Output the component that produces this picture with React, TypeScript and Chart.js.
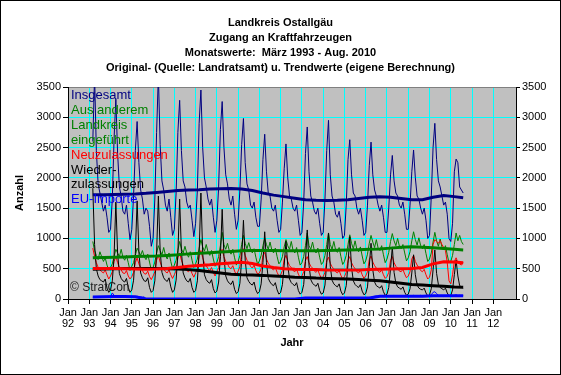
import React, { useEffect, useRef } from 'react';
import { Chart, registerables } from 'chart.js';

Chart.register(...registerables);

// ---- DATA ----
// monthly values, März 1993 .. Aug. 2010 (210 months)
const START_YEAR = 1993;
const START_MONTH = 3;

const insgesamt = [
  2600, 3700, 2450, 1900, 1750, 1600, 1450, 1550, 1350, 1100,
  1150, 1650, 2650, 3300, 2400, 1850, 1700, 1450, 1400, 1550, 1250, 980,
  1150, 1700, 2450, 2930, 2250, 1800, 1650, 1400, 1500, 1450, 1200, 870,
  1000, 1650, 2750, 3700, 2550, 1950, 1800, 1550, 1450, 1650, 1350, 1050,
  1150, 1750, 2750, 3280, 2450, 1950, 1850, 1600, 1500, 1550, 1300, 1030,
  1250, 1800, 2900, 3450, 2500, 2000, 1850, 1650, 1550, 1650, 1350, 1100,
  1300, 1850, 2800, 3260, 2500, 2050, 1900, 1650, 1550, 1700, 1400, 1150,
  1300, 1800, 2550, 2980, 2250, 1900, 1800, 1550, 1500, 1600, 1350, 1200,
  1200, 1650, 2300, 2720, 2100, 1750, 1700, 1500, 1450, 1550, 1300, 1100,
  1150, 1600, 2150, 2560, 2000, 1700, 1650, 1500, 1450, 1550, 1300, 1050,
  1100, 1600, 2400, 2840, 2100, 1700, 1600, 1450, 1400, 1500, 1250, 1050,
  1100, 1650, 2450, 2950, 2050, 1700, 1600, 1400, 1350, 1450, 1250, 1000,
  1050, 1550, 2300, 2630, 2050, 1750, 1700, 1500, 1400, 1500, 1300, 1050,
  1100, 1550, 2200, 2590, 2050, 1800, 1700, 1550, 1450, 1550, 1350, 1100,
  1100, 1500, 2050, 2370, 1950, 1750, 1700, 1550, 1500, 1600, 1400, 1150,
  1150, 1550, 2100, 2460, 2000, 1700, 1650, 1500, 1400, 1500, 1300, 1000,
  1050, 1700, 2500, 2900, 2300, 1950, 1850, 1700, 1550, 1600, 1400, 1000,
  950, 1250, 2100, 2310, 2250, 1850, 1800, 1750,
];

const ausAnderemLandkreis = [
  950, 800, 720, 650, 780, 700, 620, 680, 560, 480,
  520, 580, 700, 820, 760, 700, 820, 690, 640, 720, 600, 470,
  540, 600, 720, 840, 780, 720, 800, 700, 650, 740, 610, 480,
  520, 610, 760, 880, 800, 730, 850, 720, 660, 760, 620, 500,
  560, 640, 800, 950, 830, 760, 870, 760, 690, 780, 640, 520,
  580, 660, 840, 980, 860, 790, 900, 780, 720, 800, 660, 540,
  600, 700, 880, 1100, 900, 820, 920, 800, 740, 820, 680, 560,
  620, 720, 900, 1050, 920, 830, 930, 820, 760, 830, 690, 570,
  630, 720, 880, 1000, 900, 820, 940, 810, 760, 840, 700, 580,
  620, 700, 860, 980, 880, 820, 950, 800, 760, 850, 690, 560,
  600, 700, 880, 1090, 880, 820, 940, 800, 760, 840, 690, 570,
  610, 720, 900, 1090, 900, 820, 950, 810, 770, 850, 700, 570,
  620, 720, 900, 1060, 920, 830, 960, 820, 780, 860, 710, 580,
  630, 740, 920, 1050, 940, 850, 980, 840, 800, 880, 730, 600,
  660, 770, 950, 1080, 960, 880, 1000, 870, 830, 900, 760, 630,
  680, 780, 960, 1110, 980, 890, 1010, 880, 830, 900, 750, 620,
  660, 760, 940, 1100, 960, 870, 990, 860, 810, 880, 730, 600,
  620, 720, 900, 1090, 960, 1050, 950, 900,
];

const neuzulassungen = [
  840, 700, 600, 520, 480, 450, 430, 480, 400, 330,
  380, 450, 620, 700, 600, 520, 480, 430, 420, 470, 380, 330,
  370, 440, 600, 680, 580, 510, 470, 420, 410, 460, 370, 320,
  380, 450, 640, 720, 610, 530, 500, 450, 430, 480, 400, 340,
  400, 470, 680, 760, 640, 560, 520, 470, 450, 500, 420, 360,
  430, 500, 720, 800, 680, 590, 550, 500, 470, 520, 440, 380,
  450, 520, 760, 820, 700, 620, 580, 520, 500, 550, 460, 400,
  460, 540, 780, 830, 720, 640, 600, 540, 510, 560, 470, 410,
  430, 500, 720, 770, 660, 590, 550, 500, 480, 520, 440, 380,
  400, 470, 660, 720, 620, 550, 520, 470, 450, 490, 410, 350,
  380, 450, 640, 700, 600, 540, 510, 460, 440, 480, 400, 340,
  370, 440, 630, 690, 590, 530, 500, 450, 430, 470, 390, 330,
  370, 440, 640, 700, 600, 540, 500, 450, 430, 480, 400, 340,
  380, 450, 650, 710, 610, 550, 510, 460, 440, 480, 400, 340,
  370, 440, 640, 700, 600, 540, 510, 460, 450, 490, 410, 350,
  380, 450, 660, 720, 620, 560, 520, 470, 450, 490, 400, 330,
  360, 480, 900, 980, 950, 920, 960, 900, 850, 800, 600, 300,
  250, 400, 620, 680, 600, 580, 560, 600,
];

const wiederzulassungen = [
  1830, 900, 500, 380, 320, 300, 280, 330, 180, 110,
  150, 300, 700, 1600, 750, 420, 340, 300, 280, 340, 190, 110,
  150, 310, 750, 1620, 780, 430, 350, 300, 290, 350, 190, 110,
  140, 300, 760, 1700, 800, 440, 350, 310, 290, 350, 200, 110,
  150, 310, 740, 1650, 780, 430, 350, 300, 280, 340, 190, 110,
  140, 300, 760, 1750, 760, 400, 320, 280, 260, 320, 170, 100,
  130, 280, 700, 1480, 700, 380, 300, 260, 240, 300, 160, 90,
  120, 260, 650, 1300, 640, 350, 290, 250, 230, 280, 150, 90,
  120, 250, 600, 1110, 600, 340, 280, 240, 220, 270, 150, 80,
  110, 240, 560, 950, 560, 330, 270, 240, 220, 270, 140, 80,
  110, 240, 620, 1140, 560, 320, 260, 230, 210, 260, 140, 80,
  100, 230, 600, 1090, 540, 310, 250, 220, 200, 250, 130, 70,
  100, 220, 580, 1030, 520, 300, 240, 210, 190, 240, 130, 70,
  90, 200, 540, 920, 480, 280, 220, 200, 180, 220, 120, 60,
  80, 190, 500, 860, 440, 260, 200, 180, 160, 200, 110, 60,
  80, 170, 430, 730, 400, 230, 180, 160, 150, 180, 100, 50,
  70, 170, 480, 810, 420, 240, 190, 170, 150, 180, 100, 50,
  60, 150, 400, 640, 380, 220, 200, 180,
];

const euImporte = [
  30, 35, 40, 30, 35, 40, 30, 35, 25, 30,
  40, 100, 60, 45, 40, 35, 40, 30, 35, 40, 30, 35,
  40, 35, 40, 45, 40, 35, 30, 35, 0, 0, 0, 0,
  0, 0, 0, 0, 0, 0, 0, 0, 0, 0, 0, 0,
  0, 0, 0, 0, 0, 0, 0, 0, 0, 0, 0, 0,
  0, 0, 0, 0, 0, 0, 0, 0, 0, 0, 0, 0,
  0, 0, 0, 0, 0, 0, 0, 0, 0, 0, 0, 0,
  0, 0, 0, 0, 0, 0, 0, 0, 0, 0, 0, 0,
  0, 0, 0, 0, 0, 0, 0, 0, 0, 0, 0, 0,
  0, 0, 0, 0, 0, 0, 0, 0, 0, 0, 0, 0,
  10, 15, 20, 15, 20, 15, 10, 15, 20, 15, 10, 15,
  15, 20, 15, 20, 15, 10, 15, 20, 15, 20, 15, 10,
  15, 20, 15, 20, 25, 15, 20, 15, 20, 15, 10, 15,
  20, 15, 20, 25, 40, 45, 50, 40, 45, 50, 40, 45,
  40, 50, 45, 55, 60, 50, 45, 50, 55, 45, 40, 50,
  45, 50, 55, 60, 50, 45, 55, 60, 50, 45, 40, 50,
  50, 70, 110, 120, 90, 60, 50, 60, 40, 55, 60, 50,
  40, 55, 60, 70, 55, 60, 50, 55,
];

// trend values (eigene Berechnung), half-yearly points
const trendMonths = [
  '1993-03', '1993-09', '1994-03', '1994-09', '1995-03', '1995-09',
  '1996-03', '1996-09', '1997-03', '1997-09', '1998-03', '1998-09',
  '1999-03', '1999-09', '2000-03', '2000-09', '2001-03', '2001-09',
  '2002-03', '2002-09', '2003-03', '2003-09', '2004-03', '2004-09',
  '2005-03', '2005-09', '2006-03', '2006-09', '2007-03', '2007-09',
  '2008-03', '2008-09', '2009-03', '2009-09', '2010-03', '2010-08',
];
const trendInsgesamt = [
  1720, 1720, 1725, 1730, 1735, 1745, 1760, 1775, 1790, 1800, 1805, 1815,
  1820, 1825, 1815, 1790, 1750, 1715, 1690, 1665, 1640, 1630, 1625, 1630,
  1640, 1660, 1680, 1690, 1680, 1660, 1640, 1640, 1680, 1710, 1690, 1670,
];
const trendAusAnderem = [
  680, 685, 690, 695, 700, 705, 710, 720, 730, 745, 755, 765,
  775, 785, 795, 800, 800, 800, 798, 795, 795, 795, 800, 805,
  810, 815, 820, 825, 840, 855, 862, 855, 845, 835, 820, 810,
];
const trendNeu = [
  505, 505, 505, 500, 495, 490, 495, 505, 520, 540, 555, 565,
  580, 595, 605, 585, 545, 520, 500, 490, 488, 485, 480, 478,
  478, 480, 485, 490, 495, 500, 505, 520, 580, 615, 610, 600,
];
const trendWieder = [
  490, 495, 500, 505, 505, 505, 505, 500, 495, 485, 470, 450,
  430, 410, 400, 395, 390, 380, 370, 360, 355, 345, 340, 335,
  330, 320, 310, 300, 280, 260, 240, 230, 220, 210, 200, 195,
];
const trendEU = [
  35, 38, 40, 40, 38, 0, 0, 0, 0, 0, 0, 0,
  0, 0, 0, 0, 0, 0, 0, 0, 15, 15, 15, 15,
  15, 15, 15, 45, 45, 45, 45, 45, 55, 55, 55, 55,
];

const yearLabels = [
  '92', '93', '94', '95', '96', '97', '98', '99', '00', '01', '02',
  '03', '04', '05', '06', '07', '08', '09', '10', '11', '12',
];
const yTicks = [0, 250, 500, 750, 1000, 1250, 1500, 1750, 2000, 2250, 2500, 2750, 3000, 3250, 3500];

const titleLines = [
  'Landkreis Ostallgäu',
  'Zugang an Kraftfahrzeugen',
  'Monatswerte:  März 1993 - Aug. 2010',
  'Original- (Quelle: Landratsamt) u. Trendwerte (eigene Berechnung)',
];
const legendLines = ['Insgesamt', 'Aus anderem', 'Landkreis', 'eingeführt', 'Neuzulassungen', 'Wieder-', 'zulassungen', 'EU-Importe'];
const legendColors = ['#000080', '#008000', '#008000', '#008000', '#ff0000', '#000000', '#000000', '#0000ff'];

const NAVY = '#000080';
const GREEN = '#008000';
const RED = '#ff0000';
const BLACK = '#000000';
const BLUE = '#0000ff';
const FONT = 'Arial, "Liberation Sans", sans-serif';

// month index since Jan 1992
const monthPos = (year: number, month: number) => (year - 1992) * 12 + (month - 1);
const START_POS = monthPos(START_YEAR, START_MONTH);
const monthly = (vals: number[]) => vals.map((v, i) => ({ x: START_POS + i, y: v }));
const trend = (vals: number[]) =>
  vals.map((v, i) => {
    const [y, m] = trendMonths[i].split('-').map(Number);
    return { x: monthPos(y, m), y: v };
  });

const decor = {
  id: 'decor',
  beforeDraw(chart: any) {
    const { ctx, chartArea: a } = chart;
    ctx.save();
    ctx.fillStyle = '#ffffff';
    ctx.fillRect(0, 0, chart.width, chart.height);
    ctx.fillStyle = '#c0c0c0';
    ctx.fillRect(a.left, a.top, a.right - a.left, a.bottom - a.top);
    ctx.restore();
  },
  beforeDatasetsDraw(chart: any) {
    const { ctx, chartArea: a } = chart;
    ctx.save();
    ctx.lineWidth = 1;
    ctx.strokeStyle = '#808080';
    ctx.beginPath();
    ctx.moveTo(a.left, Math.round(a.top) + 0.5);
    ctx.lineTo(a.right, Math.round(a.top) + 0.5);
    ctx.stroke();
    ctx.strokeStyle = '#000000';
    ctx.beginPath();
    ctx.moveTo(Math.round(a.left) + 0.5, a.top);
    ctx.lineTo(Math.round(a.left) + 0.5, a.bottom);
    ctx.moveTo(Math.round(a.right) + 0.5, a.top);
    ctx.lineTo(Math.round(a.right) + 0.5, a.bottom);
    ctx.moveTo(a.left, Math.round(a.bottom) + 0.5);
    ctx.lineTo(a.right + 1, Math.round(a.bottom) + 0.5);
    ctx.stroke();
    ctx.restore();
  },
  afterDraw(chart: any) {
    const { ctx, chartArea: a } = chart;
    ctx.save();
    // titles
    ctx.fillStyle = '#000000';
    ctx.textAlign = 'center';
    ctx.textBaseline = 'middle';
    ctx.font = `bold 11px ${FONT}`;
    const titleY = [23, 37.5, 52.5, 67.5];
    titleLines.forEach((t, i) => ctx.fillText(t, chart.width / 2, titleY[i]));
    // axis titles
    ctx.fillText('Jahr', (a.left + a.right) / 2, 343);
    ctx.save();
    ctx.translate(20, (a.top + a.bottom) / 2);
    ctx.rotate(-Math.PI / 2);
    ctx.fillText('Anzahl', 0, 0);
    ctx.restore();
    // legend text inside plot
    ctx.textAlign = 'left';
    ctx.font = `13px ${FONT}`;
    legendLines.forEach((t, i) => {
      ctx.fillStyle = legendColors[i];
      ctx.fillText(t, a.left + 3, a.top + 8.5 + 14.9 * i);
    });
    // copyright
    ctx.fillStyle = '#202020';
    ctx.font = `12px ${FONT}`;
    ctx.fillText('© StratCon', a.left + 2, a.bottom - 11);
    // outer border
    ctx.strokeStyle = '#000000';
    ctx.lineWidth = 1;
    ctx.strokeRect(0.5, 0.5, chart.width - 1, chart.height - 1);
    ctx.restore();
  },
};

export default function App() {
  const ref = useRef<HTMLCanvasElement | null>(null);
  useEffect(() => {
    if (!ref.current) return;
    const raw = (label: string, vals: number[], color: string) => ({
      label,
      data: monthly(vals),
      borderColor: color,
      backgroundColor: color,
      borderWidth: 1,
      pointRadius: 0,
      tension: 0,
      fill: false,
    });
    const tr = (label: string, vals: number[], color: string) => ({
      label,
      data: trend(vals),
      borderColor: color,
      backgroundColor: color,
      borderWidth: 3,
      pointRadius: 0,
      tension: 0,
      fill: false,
    });
    const tickFont = { family: FONT, size: 11 };
    const chart = new Chart(ref.current, {
      type: 'line',
      data: {
        datasets: [
          tr('Trend Insgesamt', trendInsgesamt, NAVY),
          tr('Trend Aus anderem Landkreis', trendAusAnderem, GREEN),
          tr('Trend Neuzulassungen', trendNeu, RED),
          tr('Trend Wiederzulassungen', trendWieder, BLACK),
          tr('Trend EU-Importe', trendEU, BLUE),
          raw('EU-Importe', euImporte, BLUE),
          raw('Wiederzulassungen', wiederzulassungen, BLACK),
          raw('Neuzulassungen', neuzulassungen, RED),
          raw('Aus anderem Landkreis eingeführt', ausAnderemLandkreis, GREEN),
          raw('Insgesamt', insgesamt, NAVY),
        ] as any,
      },
      options: {
        animation: false,
        responsive: false,
        devicePixelRatio: 1,
        parsing: true,
        layout: { padding: { top: 87, left: 8, right: 0, bottom: 0 } },
        plugins: {
          legend: { display: false },
          title: { display: false },
          tooltip: { enabled: false },
        },
        scales: {
          x: {
            type: 'linear',
            min: 0,
            max: 252.8,
            afterBuildTicks: (s: any) => {
              s.ticks = yearLabels.map((_, i) => ({ value: i * 12 }));
            },
            afterFit: (s: any) => {
              s.height = 76;
            },
            ticks: {
              autoSkip: false,
              maxRotation: 0,
              minRotation: 0,
              padding: 3,
              color: '#000000',
              font: { ...tickFont, lineHeight: 1.05 },
              callback: (_v: any, i: number) => ['Jan', yearLabels[i]],
            },
            grid: {
              color: (c: any) => (c.tick && c.tick.value === 0 ? 'rgba(0,0,0,0)' : '#00ffff'),
              tickColor: '#000000',
              tickLength: 5,
              lineWidth: 1,
            },
            border: { display: false },
          },
          y: {
            position: 'left',
            min: 0,
            max: 3500,
            afterBuildTicks: (s: any) => {
              s.ticks = yTicks.map((v) => ({ value: v }));
            },
            afterFit: (s: any) => {
              s.width = 60;
            },
            ticks: {
              padding: 2,
              color: '#000000',
              font: tickFont,
              callback: (v: any) => (Number(v) % 500 === 0 ? String(v) : ''),
            },
            grid: {
              color: (c: any) => {
                const v = c.tick ? c.tick.value : 0;
                return v % 500 === 0 && v !== 0 && v !== 3500 ? '#00ffff' : 'rgba(0,0,0,0)';
              },
              tickColor: '#000000',
              tickLength: 5,
              lineWidth: 1,
            },
            border: { display: false },
          },
          y2: {
            position: 'right',
            min: 0,
            max: 3500,
            afterBuildTicks: (s: any) => {
              s.ticks = yTicks.map((v) => ({ value: v }));
            },
            afterFit: (s: any) => {
              s.width = 45;
            },
            ticks: {
              padding: 2,
              color: '#000000',
              font: tickFont,
              callback: (v: any) => (Number(v) % 500 === 0 ? String(v) : ''),
            },
            grid: {
              drawOnChartArea: false,
              tickColor: '#000000',
              tickLength: 4,
              lineWidth: 1,
            },
            border: { display: false },
          },
        },
      } as any,
      plugins: [decor],
    });
    return () => chart.destroy();
  }, []);
  return (
    <div style={{ position: 'fixed', left: 0, top: 0, width: 561, height: 375 }}>
      <canvas ref={ref} width={561} height={375} style={{ width: 561, height: 375, display: 'block' }} />
    </div>
  );
}
